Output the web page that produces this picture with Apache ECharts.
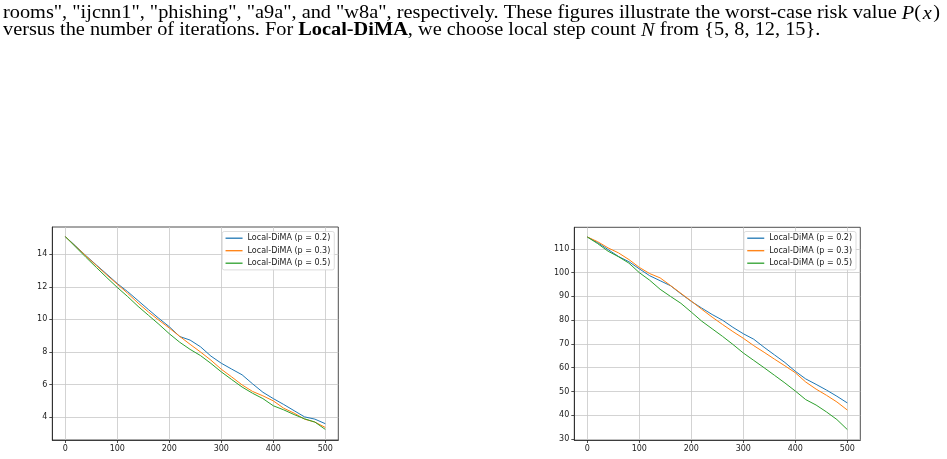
<!DOCTYPE html>
<html>
<head>
<meta charset="utf-8">
<script src="https://cdn.jsdelivr.net/npm/echarts@6/dist/echarts.min.js"></script>
<style>html,body{margin:0;padding:0;background:#fff;}#c{width:947px;height:459px;}</style>
</head>
<body>
<div id="c"></div>
<script>
// ---- data ----
const iterations = [0,20,40,60,80,100,120,140,160,180,200,220,240,260,280,300,320,340,360,380,400,420,440,460,480,500];
const seriesNames = ['Local-DiMA (p = 0.2)','Local-DiMA (p = 0.3)','Local-DiMA (p = 0.5)'];
// left panel
const leftP02 = [15.08,14.50,13.90,13.33,12.77,12.20,11.70,11.15,10.60,10.06,9.55,8.95,8.73,8.32,7.75,7.31,6.95,6.60,6.05,5.53,5.14,4.78,4.40,4.02,3.88,3.60];
const leftP03 = [15.08,14.48,13.88,13.30,12.72,12.16,11.60,11.00,10.45,9.95,9.47,8.96,8.47,8.00,7.50,6.94,6.47,5.98,5.58,5.31,5.00,4.55,4.25,3.88,3.70,3.37];
const leftP05 = [15.08,14.44,13.80,13.18,12.56,11.96,11.40,10.80,10.25,9.70,9.12,8.60,8.16,7.78,7.30,6.78,6.31,5.85,5.47,5.14,4.70,4.45,4.16,3.90,3.70,3.25];
// right panel
const rightP02 = [115.0,112.6,109.7,106.8,104.6,101.6,98.7,96.6,94.5,91.1,87.9,85.1,82.4,80.0,77.0,74.3,72.0,68.6,65.4,62.2,58.5,55.3,53.0,50.6,48.0,45.2];
const rightP03 = [115.0,113.0,110.4,108.3,105.5,102.2,99.6,97.8,94.6,91.3,88.0,84.6,81.3,78.2,75.2,72.4,69.3,66.5,63.6,60.8,57.9,54.0,51.0,48.4,45.6,42.2];
const rightP05 = [115.0,112.2,109.0,106.7,104.0,100.0,96.8,93.0,90.0,87.1,83.4,79.6,76.4,73.2,69.8,66.2,63.1,60.0,56.8,53.6,50.2,46.6,44.3,41.4,38.2,34.0];
const xTicks = [0,100,200,300,400,500];
const leftYTicks = [4,6,8,10,12,14];
const rightYTicks = [30,40,50,60,70,80,90,100,110];

// ---- styling ----
const colors = ['#1f77b4','#ff7f0e','#2ca02c'];
const txt = '#222';
const fontFam = '"DejaVu Sans", sans-serif';
const serif = '"Liberation Serif", serif';

function xAxis(gi){
  return {
    type:'value', gridIndex:gi, min:-25, max:525,
    axisLine:{show:true, onZero:false, lineStyle:{color:'#222', width:0.8}},
    axisTick:{show:true, length:3, customValues:xTicks, lineStyle:{color:'#222', width:0.8}},
    axisLabel:{customValues:xTicks, color:txt, fontSize:8, fontFamily:fontFam, margin:5},
    splitLine:{show:true, lineStyle:{color:'#c8c8c8', width:0.8}}
  };
}
function yAxis(gi, mn, mx, ticks){
  return {
    type:'value', gridIndex:gi, min:mn, max:mx,
    axisLine:{show:true, onZero:false, lineStyle:{color:'#222', width:0.8}},
    axisTick:{show:true, length:3, customValues:ticks, lineStyle:{color:'#222', width:0.8}},
    axisLabel:{customValues:ticks, color:txt, fontSize:8, fontFamily:fontFam, margin:5},
    splitLine:{show:true, lineStyle:{color:'#c8c8c8', width:0.8}}
  };
}
function mk(vals, xi, yi, ci){
  return {
    name:seriesNames[ci], type:'line', xAxisIndex:xi, yAxisIndex:yi,
    data: iterations.map((it,k)=>[it, vals[k]]),
    showSymbol:false, symbol:'none', smooth:false,
    lineStyle:{color:colors[ci], width:1}, itemStyle:{color:colors[ci]},
    emphasis:{disabled:true}, animation:false
  };
}
function legend(right){
  return {
    orient:'vertical', right:right, top:231.5,
    data:seriesNames, icon:'rect', itemWidth:17, itemHeight:1.3, itemGap:2.5,
    padding:[1.7,4,1.7,3.3],
    backgroundColor:'rgba(255,255,255,0.85)', borderColor:'#d4d4d4', borderWidth:0.8, borderRadius:2,
    textStyle:{color:txt, fontSize:8, fontFamily:fontFam, lineHeight:10},
    selectedMode:false
  };
}
function para(text, top){
  return {type:'text', left:3, top:top, scaleX:1.07, silent:true, style:{
    text:text, fontSize:19, fontFamily:serif, fill:'#000',
    rich:{
      b:{fontWeight:'bold', fontSize:19, fontFamily:serif, fill:'#000'},
      i:{fontStyle:'italic', fontSize:19, fontFamily:serif, fill:'#000'}
    }
  }};
}

const chart = echarts.init(document.getElementById('c'), null, {renderer:'canvas'});
chart.setOption({
  animation:false,
  backgroundColor:'#fff',
  grid:[
    {left:52.3, top:227, width:286, height:213, show:true, borderColor:'#222', borderWidth:0.8, containLabel:false},
    {left:574.3, top:227.3, width:286, height:212.7, show:true, borderColor:'#222', borderWidth:0.8, containLabel:false}
  ],
  xAxis:[xAxis(0), xAxis(1)],
  yAxis:[yAxis(0, 2.6, 15.67, leftYTicks), yAxis(1, 29.6, 119.07, rightYTicks)],
  legend:[legend(612.7), legend(91)],
  series:[
    mk(leftP02,0,0,0), mk(leftP03,0,0,1), mk(leftP05,0,0,2),
    mk(rightP02,1,1,0), mk(rightP03,1,1,1), mk(rightP05,1,1,2)
  ],
  graphic:[
    para('rooms", "ijcnn1", "phishing", "a9a", and "w8a", respectively. These figures illustrate the worst-case risk value {i|P}(\u200A{i|x}\u200A)', 4),
    para('versus the number of iterations. For {b|Local-DiMA}, we choose local step count {i|N} from {5, 8, 12, 15}.', 21)
  ]
});
</script>
</body>
</html>
